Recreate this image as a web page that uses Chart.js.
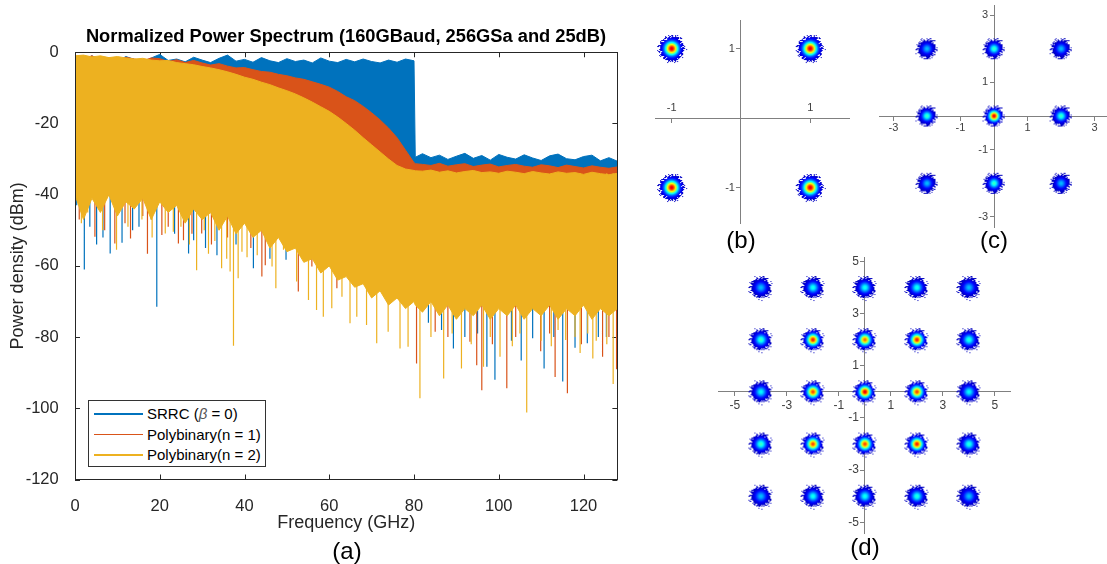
<!DOCTYPE html>
<html lang="en">
<head>
  <meta charset="UTF-8" />
  <title>Normalized Power Spectrum and constellations</title>
  <script src="https://cdn.jsdelivr.net/npm/chart.js"></script>
  <style>
    body {
      margin: 0;
      width: 1107px;
      height: 564px;
      background: #fff;
      position: relative;
      overflow: hidden;
      font-family: 'Liberation Sans', Arial, sans-serif;
    }
    canvas { position: absolute; }
    .tag {
      position: absolute;
      font-size: 24px;
      line-height: 1;
      color: #000;
      transform: translate(-50%, -50%);
      white-space: nowrap;
    }
    #legend {
      position: absolute;
      left: 88px;
      top: 400px;
      width: 176px;
      height: 65px;
      border: 1px solid #333;
      background: #fff;
      font-size: 15px;
      color: #000;
      z-index: 5;
    }
    #legend .row {
      position: absolute;
      left: 0;
      height: 20px;
      line-height: 20px;
      white-space: nowrap;
    }
    #legend .swatch {
      position: absolute;
      left: 5px;
      top: 9px;
      width: 49px;
      height: 1.5px;
    }
    #legend .txt { position: absolute; left: 58px; top: 0; }
    #legend i { color: #555; }
  </style>
</head>
<body>
  <canvas id="spec" width="692" height="564"></canvas>
  <canvas id="constB"></canvas>
  <canvas id="constC"></canvas>
  <canvas id="constD"></canvas>
  <div id="legend"></div>
  <div class="tag" style="left:347px; top:551px">(a)</div>
  <div class="tag" style="left:741px; top:240px">(b)</div>
  <div class="tag" style="left:994px; top:240px">(c)</div>
  <div class="tag" style="left:865px; top:547px">(d)</div>

  <script>
    // ---- spectrum (a) ----
    const seriesNames = ['SRRC (β = 0)', 'Polybinary(n = 1)', 'Polybinary(n = 2)'];
    const seriesColors = ['#0072BD', '#D95319', '#EDB120'];

    // frequency grid in GHz (extra point just after the 80 GHz cliff)
    const freqs = [0, 2, 4, 6, 8, 10, 12, 14, 16, 18, 20, 22, 24, 26, 28, 30, 32, 34, 36, 38,
      40, 42, 44, 46, 48, 50, 52, 54, 56, 58, 60, 62, 64, 66, 68, 70, 72, 74, 76, 78, 80, 80.3,
      82, 84, 86, 88, 90, 92, 94, 96, 98, 100, 102, 104, 106, 108, 110, 112, 114, 116, 118,
      120, 122, 124, 126, 128];

    // upper / lower edge of each trace (dBm)
    const srrcTop = [-1.5, -2.2, -1.0, -2.4, -1.8, -2.6, -1.2, -2.0, -2.8, -1.6, -0.6, -2.3, -1.9,
      -2.7, -1.4, -2.2, -2.9, -1.7, -0.8, -2.5, -2.0, -2.8, -1.5, -2.4, -2.9, -1.8, -2.6, -2.2,
      -3.0, -1.6, -2.5, -2.9, -2.0, -2.7, -1.9, -2.6, -3.0, -2.2, -2.8, -1.9, -2.4, -29.5,
      -28.5, -29.6, -28.9, -30.1, -29.2, -28.4, -29.8, -29.0, -30.3, -28.7, -29.5, -30.0, -28.8,
      -29.7, -30.4, -29.1, -28.6, -29.9, -30.2, -29.3, -28.9, -30.5, -29.6, -30.6];
    const srrcBottom = freqs.map(() => -36);

    const poly1Top = [-1.2, -1.8, -1.0, -2.0, -1.5, -2.2, -1.4, -1.9, -2.4, -1.6, -1.8, -2.6, -2.1,
      -2.9, -2.3, -3.0, -3.6, -3.2, -3.9, -4.4, -4.3, -4.9, -5.4, -5.6, -6.2, -6.6, -7.2, -7.6,
      -8.3, -9.0, -9.8, -11.0, -12.5, -13.6, -15.2, -17.0, -19.0, -21.3, -24.0, -27.5, -31.0,
      -31.3, -31.5, -31.8, -31.2, -32.0, -31.6, -31.3, -32.1, -31.7, -31.4, -32.2, -31.8, -31.5,
      -32.0, -32.3, -31.6, -31.9, -32.4, -31.7, -32.1, -32.5, -31.9, -32.3, -32.6, -32.2];
    const poly1Bottom = freqs.map(() => -36);

    const poly2Top = [-1.0, -0.8, -1.3, -1.0, -1.5, -1.2, -1.6, -1.9, -1.7, -2.2, -2.4, -2.3, -2.9,
      -3.2, -3.5, -4.0, -4.4, -4.9, -5.5, -6.2, -7.0, -7.6, -8.4, -9.1, -10.0, -10.8, -11.7,
      -12.8, -14.0, -15.3, -16.6, -18.2, -20.0, -21.9, -24.0, -26.0, -28.0, -30.0, -31.8, -32.8,
      -33.2, -33.3, -33.4, -33.1, -33.7, -33.3, -33.9, -33.5, -33.2, -33.8, -33.6, -34.0, -33.4,
      -33.7, -34.1, -33.5, -33.9, -34.2, -33.6, -34.0, -33.8, -34.3, -33.7, -34.1, -34.4, -34.0];
    const poly2Bottom = [-40, -47, -41, -45, -40, -46, -42, -44, -41, -47, -42, -45, -43, -48, -44,
      -47, -45, -50, -46, -51, -48, -52, -50, -55, -52, -56, -55, -59, -58, -62, -60, -64, -63,
      -66, -65, -69, -67, -71, -69, -72, -70, -71, -73, -70, -74, -71, -75, -72, -74, -71, -75,
      -72, -74, -71, -75, -72, -74, -71, -75, -72, -74, -71, -75, -72, -74, -72];

    // deep notches below the solid part of each trace: frequency (GHz) and depth (dBm)
    const srrcNotchF = [0.4, 2.2, 3.5, 5.1, 6.6, 8.3, 11.1, 13.6, 15.1, 18, 19.3, 23.5, 26.8, 28,
      30.8, 33.5, 38, 42.1, 46, 49.8, 83.4, 86.5, 89.3, 92, 95, 97.2, 99.1, 103, 105.3, 108,
      110.7, 113, 115.1, 118, 120.9, 123.5, 125.4];
    const srrcNotchDb = [-43, -61, -49, -54, -52, -56.5, -53.5, -50, -49, -47, -71.5, -51, -56.5,
      -52.8, -55, -57, -54, -60.7, -58, -58.3, -76, -78, -83.2, -80, -79, -88.3, -92, -81, -86.6,
      -80.3, -88.8, -80, -92.5, -83, -81.7, -80, -80];
    const poly1NotchF = [1, 4.7, 7, 9.4, 11.8, 13.1, 16, 17.1, 20.5, 22, 24.4, 25.6, 27.6, 29.9,
      32.2, 36, 41.5, 44.1, 44.9, 52.7, 55.9, 61.8, 80.6, 85, 88, 93.2, 94.8, 96, 98.5, 101.9,
      104, 109.9, 112, 113.3, 116.2, 119.5, 124.5, 126, 127.8];
    const poly1NotchDb = [-47, -51.8, -50, -53.7, -48, -52.3, -46, -56.6, -51.3, -49, -53.7, -52.8,
      -51, -50.9, -54, -52, -55, -63, -59.8, -67.2, -60.2, -66.3, -87.4, -78.5, -80, -81.3,
      -87.9, -94.9, -82, -94.4, -80, -84, -79, -91.2, -95.8, -82, -85.5, -80, -89];
    const poly2NotchF = [1.5, 3, 6.5, 9.8, 12.5, 15.8, 18.2, 21.3, 23.2, 25, 27, 28.7, 30.5, 31.5,
      33, 34.6, 35.8, 36.6, 37.4, 38.5, 39.4, 40.6, 43, 46.5, 47.4, 49.2, 52.3, 55.1, 57, 58.6,
      60.6, 63, 64.9, 66.5, 68.8, 71.2, 73.9, 76.7, 78.6, 81.4, 84, 87, 89, 91.2, 93.5, 96.4,
      98, 100.3, 103.2, 105, 106.6, 110, 112.4, 114, 115.8, 118, 119.2, 121, 122.2, 123, 125.5,
      127];
    const poly2NotchDb = [-48, -45, -50, -55.5, -49, -47, -52, -50.9, -50.4, -49, -54, -61.2, -50,
      -56.6, -53, -60.7, -58, -61.6, -82.4, -63.5, -56, -57.6, -57, -60.2, -66.3, -55.5, -64.4,
      -69.6, -72.4, -74.3, -71.9, -68.7, -76.1, -74.3, -76.6, -81.7, -78.5, -83.2, -82.7, -97.2,
      -80, -91.6, -79, -88.8, -82, -88.3, -80, -85.5, -82.6, -79, -101.2, -81, -82.6, -78, -80.8,
      -80, -84.5, -79, -86, -81, -82, -93.2];

    const freqTicks = [0, 20, 40, 60, 80, 100, 120];
    const powerTicks = [-120, -100, -80, -60, -40, -20, 0];

    // ---- constellations (b), (c), (d): symbol positions and relative peak density ----
    const qpskI = [-1, 1, -1, 1];
    const qpskQ = [1, 1, -1, -1];
    const qpskPeak = [1, 1, 1, 1];
    const qpskTicks = [-1, 1];

    const ninePointI = [-2, 0, 2, -2, 0, 2, -2, 0, 2];
    const ninePointQ = [2, 2, 2, 0, 0, 0, -2, -2, -2];
    const ninePointPeak = [0.3, 0.45, 0.3, 0.45, 1, 0.45, 0.3, 0.45, 0.3];
    const ninePointTicks = [-3, -1, 1, 3];

    const gridI = [-4, -2, 0, 2, 4, -4, -2, 0, 2, 4, -4, -2, 0, 2, 4, -4, -2, 0, 2, 4, -4, -2, 0, 2, 4];
    const gridQ = [4, 4, 4, 4, 4, 2, 2, 2, 2, 2, 0, 0, 0, 0, 0, -2, -2, -2, -2, -2, -4, -4, -4, -4, -4];
    const gridPeak = [0.3, 0.4, 0.4, 0.4, 0.3,
      0.45, 0.95, 0.85, 0.95, 0.42,
      0.38, 0.9, 1, 0.9, 0.38,
      0.45, 0.9, 0.9, 0.95, 0.42,
      0.3, 0.4, 0.4, 0.42, 0.3];
    const gridTicks = [-5, -3, -1, 1, 3, 5];

    const FONT = "'Liberation Sans', Arial, sans-serif";
    const AX = '#262626';

    // legend
    document.getElementById('legend').innerHTML = seriesNames.map((name, i) =>
      `<div class="row" style="top:${3 + i * 20.7}px"><span class="swatch" style="background:${seriesColors[i]}"></span>` +
      `<span class="txt">${name.replace('β', '<i>β</i>')}</span></div>`).join('');

    function band(top, bottom, color, order) {
      return [
        { data: freqs.map((f, i) => ({ x: f, y: top[i] })), borderColor: color, backgroundColor: color,
          borderWidth: 1, pointRadius: 0, fill: '+1', order },
        { data: freqs.map((f, i) => ({ x: f, y: bottom[i] })), borderColor: color, backgroundColor: color,
          borderWidth: 1, pointRadius: 0, fill: false, order }
      ];
    }

    function notches(fs, dbs, color, order) {
      const pts = [];
      fs.forEach((f, i) => { pts.push({ x: f, y: -34 }, { x: f, y: dbs[i] }, { x: f, y: null }); });
      return { data: pts, borderColor: color, borderWidth: 1.2, pointRadius: 0, fill: false, spanGaps: false, order };
    }

    // box with inward ticks, like the original axes
    const boxTicks = {
      id: 'boxTicks',
      beforeDatasetsDraw(chart) {
        const { ctx, chartArea: a, scales: { x, y } } = chart;
        ctx.save();
        ctx.strokeStyle = AX;
        ctx.lineWidth = 1;
        ctx.beginPath();
        x.ticks.forEach(t => {
          const px = Math.round(x.getPixelForValue(t.value)) + 0.5;
          ctx.moveTo(px, a.bottom); ctx.lineTo(px, a.bottom - 5);
          ctx.moveTo(px, a.top); ctx.lineTo(px, a.top + 5);
        });
        y.ticks.forEach(t => {
          const py = Math.round(y.getPixelForValue(t.value)) + 0.5;
          ctx.moveTo(a.left, py); ctx.lineTo(a.left + 5, py);
          ctx.moveTo(a.right, py); ctx.lineTo(a.right - 5, py);
        });
        ctx.stroke();
        ctx.restore();
      },
      afterDatasetsDraw(chart) {
        const { ctx, chartArea: a } = chart;
        ctx.save();
        ctx.strokeStyle = AX;
        ctx.lineWidth = 1;
        ctx.strokeRect(Math.round(a.left) + 0.5, Math.round(a.top) + 0.5,
          Math.round(a.right - a.left), Math.round(a.bottom - a.top));
        ctx.restore();
      }
    };

    const specCanvas = document.getElementById('spec');
    specCanvas.style.left = '0px';
    specCanvas.style.top = '0px';
    new Chart(specCanvas, {
      type: 'line',
      data: {
        datasets: [
          ...band(srrcTop, srrcBottom, seriesColors[0], 3),
          notches(srrcNotchF, srrcNotchDb, seriesColors[0], 3),
          ...band(poly1Top, poly1Bottom, seriesColors[1], 2),
          notches(poly1NotchF, poly1NotchDb, seriesColors[1], 2),
          ...band(poly2Top, poly2Bottom, seriesColors[2], 1),
          notches(poly2NotchF, poly2NotchDb, seriesColors[2], 1)
        ]
      },
      options: {
        responsive: false,
        animation: false,
        events: [],
        layout: { padding: 0 },
        elements: { line: { tension: 0 } },
        plugins: {
          legend: { display: false },
          tooltip: { enabled: false },
          title: {
            display: true,
            text: 'Normalized Power Spectrum (160GBaud, 256GSa and 25dB)',
            color: '#000',
            font: { family: FONT, size: 18.3, weight: 'bold' },
            padding: { top: 26.1, bottom: 4.2 }
          }
        },
        scales: {
          x: {
            type: 'linear', min: 0, max: 128,
            afterBuildTicks: s => { s.ticks = freqTicks.map(v => ({ value: v })); },
            afterFit: s => { s.height = 84.5; },
            grid: { display: false },
            border: { color: AX },
            ticks: { padding: 8.9, color: AX, font: { family: FONT, size: 16.5 }, maxRotation: 0, autoSkip: false },
            title: { display: true, text: 'Frequency (GHz)', color: AX, font: { family: FONT, size: 18 },
              padding: { top: 0, bottom: 30.5 } }
          },
          y: {
            type: 'linear', min: -120, max: 0,
            afterBuildTicks: s => { s.ticks = powerTicks.map(v => ({ value: v })); },
            afterFit: s => { s.width = 75; },
            grid: { display: false },
            border: { color: AX },
            ticks: { padding: 8.3, color: AX, font: { family: FONT, size: 16.5 }, autoSkip: false },
            title: { display: true, text: 'Power density (dBm)', color: AX, font: { family: FONT, size: 18 },
              padding: { top: 7.2, bottom: 0 } }
          },
          // empty right-hand axis: keeps the plot box where it is and the title centred over it
          yRight: {
            type: 'linear', position: 'right', min: -120, max: 0,
            afterFit: s => { s.width = 74.6; },
            grid: { display: false },
            border: { display: false },
            ticks: { display: false }
          }
        }
      },
      plugins: [boxTicks]
    });

    // ---- constellation clusters: jet coloured density blobs ----
    function jet(t) {
      const c = v => Math.round(255 * Math.max(0, Math.min(1, v)));
      return [c(1.5 - Math.abs(4 * t - 3)), c(1.5 - Math.abs(4 * t - 2)), c(1.5 - Math.abs(4 * t - 1))];
    }

    // fixed integer hash, only used to make the rim of a blob look grainy
    function grain(i, j) {
      let h = Math.imul(i, 374761393) + Math.imul(j, 668265263);
      h = Math.imul(h ^ (h >>> 13), 1274126177);
      return ((h ^ (h >>> 16)) >>> 0) / 4294967296;
    }

    function makeBlob(peak, R) {
      const S = Math.ceil(2 * R + 12);
      const cv = document.createElement('canvas');
      cv.width = cv.height = S;
      const g = cv.getContext('2d');
      const img = g.createImageData(S, S);
      const sigma = R / 2.6;
      for (let j = 0; j < S; j++) {
        for (let i = 0; i < S; i++) {
          const dx = i + 0.5 - S / 2, dy = j + 0.5 - S / 2;
          const r = Math.hypot(dx, dy);
          let on = false;
          if (r < R - 1.5) on = true;
          else if (r < R + 4) on = grain(i, j) < Math.pow((R + 4 - r) / 5.5, 1.6);
          if (!on) continue;
          const d = Math.exp(-r * r / (2 * sigma * sigma));
          const [cr, cg, cb] = jet(0.06 + 0.84 * peak * d);
          const k = (j * S + i) * 4;
          img.data[k] = cr; img.data[k + 1] = cg; img.data[k + 2] = cb; img.data[k + 3] = 255;
        }
      }
      g.putImageData(img, 0, 0);
      return cv;
    }

    // y labels of an axis crossing at x = 0 sit on the axis line; move them left of it
    const yLabelGap = {
      id: 'yLabelGap',
      beforeDraw(chart, args, opts) {
        chart.scales.y.getLabelItems().forEach(item => { item.options.translation[0] -= opts.gap; });
      }
    };

    function constellation(id, box, xr, yr, I, Q, peak, tickVals, R, fontSize, xPad) {
      const m = 20;
      const cv = document.getElementById(id);
      cv.style.left = (box[0] - m) + 'px';
      cv.style.top = (box[1] - m) + 'px';
      cv.width = box[2] - box[0] + 2 * m;
      cv.height = box[3] - box[1] + 2 * m;
      const blobs = peak.map(p => makeBlob(p, R));
      const zeroPad = s => { s.paddingLeft = s.paddingRight = s.paddingTop = s.paddingBottom = 0; };
      const axisStyle = {
        type: 'linear',
        z: 1,
        afterFit: zeroPad,
        grid: { display: true, drawOnChartArea: false, drawTicks: true, tickLength: 4, color: '#808080', lineWidth: 1 },
        border: { display: true, color: '#808080', width: 1 }
      };
      new Chart(cv, {
        type: 'scatter',
        data: {
          datasets: [{
            data: I.map((x, i) => ({ x, y: Q[i] })),
            pointStyle: ctx => blobs[ctx.dataIndex],
            pointRadius: 5,
            clip: false
          }]
        },
        options: {
          responsive: false,
          animation: false,
          events: [],
          layout: { padding: m },
          plugins: { legend: { display: false }, tooltip: { enabled: false }, yLabelGap: { gap: 6 } },
          scales: {
            x: {
              ...axisStyle, min: xr[0], max: xr[1], position: { y: 0 },
              afterBuildTicks: s => { s.ticks = tickVals.map(v => ({ value: v })); },
              ticks: { padding: xPad, color: '#404040', font: { family: FONT, size: fontSize }, maxRotation: 0, autoSkip: false }
            },
            y: {
              ...axisStyle, min: yr[0], max: yr[1], position: { x: 0 },
              afterBuildTicks: s => { s.ticks = tickVals.map(v => ({ value: v })); },
              ticks: { padding: 4, color: '#404040', font: { family: FONT, size: fontSize }, autoSkip: false }
            }
          }
        },
        plugins: [yLabelGap]
      });
    }

    constellation('constB', [655, 20, 849, 223], [-1.24, 1.56], [-1.51, 1.41],
      qpskI, qpskQ, qpskPeak, qpskTicks, 11.5, 11, -20.6);
    constellation('constC', [879, 5, 1107, 227], [-3.43, 3.37], [-3.3, 3.3],
      ninePointI, ninePointQ, ninePointPeak, ninePointTicks, 8.5, 11, 1.4);
    constellation('constD', [718, 256.7, 1010, 533], [-5.65, 5.58], [-5.41, 5.17],
      gridI, gridQ, gridPeak, gridTicks, 9.5, 12, 2.8);
  </script>
</body>
</html>
